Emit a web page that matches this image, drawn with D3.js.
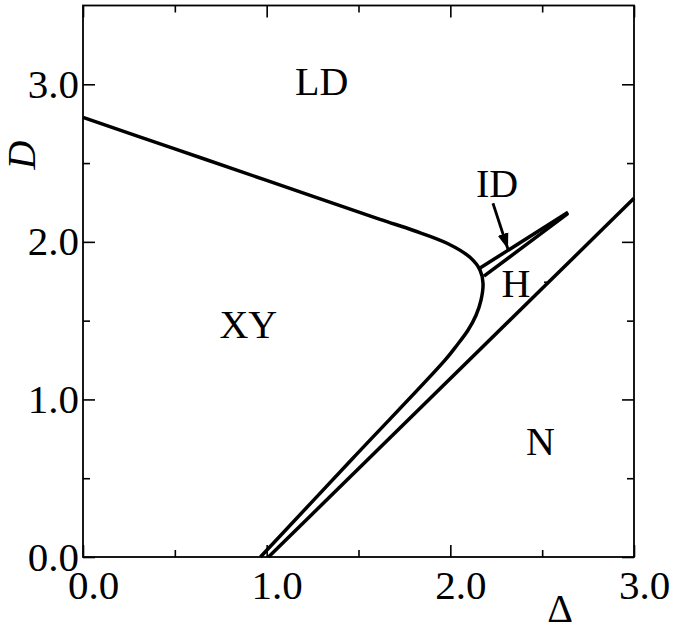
<!DOCTYPE html>
<html>
<head>
<meta charset="utf-8">
<script src="https://cdn.jsdelivr.net/npm/d3@7/dist/d3.min.js"></script>
<style>
  html, body { margin: 0; padding: 0; background: #fff; }
  svg { display: block; }
</style>
</head>
<body>
<svg id="chart" width="678" height="643"></svg>
<script>
// ---- data (Δ, D) ----
const deltaMajorTicks = [0, 1, 2, 3];
const deltaMinorTicks = [0.5, 1.5, 2.5];
const dMajorTicks = [0, 1, 2, 3];
const dMinorTicks = [0.5, 1.5, 2.5];
const tickLabelFormat = ".1f";

// XY / LD boundary, continuing around the nose down to the XY / H boundary
const xyBoundary = [
  [0.000, 2.790], [0.500, 2.590], [1.000, 2.390], [1.617, 2.143],
  [1.800, 2.072], [1.982, 1.991], [2.107, 1.902], [2.162, 1.820],
  [2.178, 1.737], [2.167, 1.630], [2.140, 1.534], [2.096, 1.439],
  [2.036, 1.344], [1.971, 1.249], [1.468, 0.625], [0.966, 0.000]
];
// H / N boundary
const hnBoundary = [[1.010, 0.000], [3.000, 2.276]];
// ID region edges
const idUpper = [[2.151, 1.826], [2.641, 2.188]];
const idLower = [[2.183, 1.782], [2.641, 2.181]];
// arrow pointing at ID region
const idArrow = [[2.232, 2.245], [2.314, 1.953]];
// small stray dash next to H
const hDash = [[2.510, 1.744], [2.537, 1.744]];
// region labels
const regionLabels = [
  { text: "LD", delta: 1.30, D: 2.93 },
  { text: "XY", delta: 0.90, D: 1.39 },
  { text: "ID", delta: 2.255, D: 2.283 },
  { text: "H",  delta: 2.357, D: 1.649 },
  { text: "N",  delta: 2.49, D: 0.647 }
];

// ---- layout ----
const W = 678, H = 643;
const margin = { top: 5.5, right: 44, bottom: 86, left: 83 };
const FONT = "'Liberation Serif', 'Times New Roman', Times, serif";
const LW = 3.5;
const svg = d3.select("#chart");

const x = d3.scaleLinear().domain([0, 3]).range([margin.left, W - margin.right]);
const y = d3.scaleLinear().domain([0, 3.5]).range([H - margin.bottom, margin.top]);

// frame
svg.append("rect")
  .attr("x", x(0)).attr("y", y(3.5))
  .attr("width", x(3) - x(0)).attr("height", y(0) - y(3.5))
  .attr("fill", "none").attr("stroke", "#000").attr("stroke-width", 1.8);

function styleAxis(g) {
  g.select(".domain").remove();
  g.selectAll(".tick line").attr("stroke", "#000").attr("stroke-width", 1.6);
  g.selectAll("text").attr("fill", "#000");
  g.attr("font-family", FONT).attr("font-size", 41);
}

// bottom
svg.append("g").attr("transform", `translate(0,${y(0)})`)
  .call(d3.axisBottom(x).tickValues(deltaMajorTicks).tickSize(-12).tickPadding(13)
    .tickFormat(d3.format(tickLabelFormat)))
  .call(styleAxis)
  .selectAll("text").attr("dx", 10);
svg.append("g").attr("transform", `translate(0,${y(0)})`)
  .call(d3.axisBottom(x).tickValues(deltaMinorTicks).tickSize(-7).tickFormat(""))
  .call(styleAxis);
// top
svg.append("g").attr("transform", `translate(0,${y(3.5)})`)
  .call(d3.axisTop(x).tickValues(deltaMajorTicks).tickSize(-12).tickFormat(""))
  .call(styleAxis);
svg.append("g").attr("transform", `translate(0,${y(3.5)})`)
  .call(d3.axisTop(x).tickValues(deltaMinorTicks).tickSize(-7).tickFormat(""))
  .call(styleAxis);
// left
svg.append("g").attr("transform", `translate(${x(0)},0)`)
  .call(d3.axisLeft(y).tickValues(dMajorTicks).tickSize(-12).tickPadding(4)
    .tickFormat(d3.format(tickLabelFormat)))
  .call(styleAxis);
svg.append("g").attr("transform", `translate(${x(0)},0)`)
  .call(d3.axisLeft(y).tickValues(dMinorTicks).tickSize(-7).tickFormat(""))
  .call(styleAxis);
// right
svg.append("g").attr("transform", `translate(${x(3)},0)`)
  .call(d3.axisRight(y).tickValues(dMajorTicks).tickSize(-12).tickFormat(""))
  .call(styleAxis);
svg.append("g").attr("transform", `translate(${x(3)},0)`)
  .call(d3.axisRight(y).tickValues(dMinorTicks).tickSize(-7).tickFormat(""))
  .call(styleAxis);

// axis titles
svg.append("text")
  .attr("transform", `translate(21,155) rotate(-90)`)
  .attr("text-anchor", "middle").attr("dominant-baseline", "central")
  .attr("font-family", FONT).attr("font-size", 40).attr("font-style", "italic")
  .text("D");
svg.append("text")
  .attr("x", 560).attr("y", 622)
  .attr("text-anchor", "middle")
  .attr("font-family", FONT).attr("font-size", 40)
  .text("Δ");

// lines
const smooth = d3.line().x(d => x(d[0])).y(d => y(d[1])).curve(d3.curveCatmullRom.alpha(0.5));
const straight = d3.line().x(d => x(d[0])).y(d => y(d[1]));

svg.append("path").datum(xyBoundary).attr("d", smooth)
  .attr("fill", "none").attr("stroke", "#000").attr("stroke-width", LW)
  .attr("stroke-linejoin", "round");
[hnBoundary, idUpper, idLower].forEach(seg => {
  svg.append("path").datum(seg).attr("d", straight)
    .attr("fill", "none").attr("stroke", "#000").attr("stroke-width", LW);
});
svg.append("path").datum(hDash).attr("d", straight)
  .attr("fill", "none").attr("stroke", "#000").attr("stroke-width", 1.5);

// arrow
svg.append("defs").append("marker")
  .attr("id", "ah").attr("markerUnits", "userSpaceOnUse")
  .attr("viewBox", "0 -6 16 12").attr("refX", 16).attr("refY", 0)
  .attr("markerWidth", 16).attr("markerHeight", 12).attr("orient", "auto")
  .append("path").attr("d", "M0,-5.5L16,0L0,5.5Z").attr("fill", "#000");
svg.append("path").datum(idArrow).attr("d", straight)
  .attr("fill", "none").attr("stroke", "#000").attr("stroke-width", 2.8)
  .attr("marker-end", "url(#ah)");

// region labels
svg.append("g").selectAll("text").data(regionLabels).join("text")
  .attr("x", d => x(d.delta)).attr("y", d => y(d.D))
  .attr("text-anchor", "middle")
  .attr("font-family", FONT).attr("font-size", 40)
  .text(d => d.text);
</script>
</body>
</html>
